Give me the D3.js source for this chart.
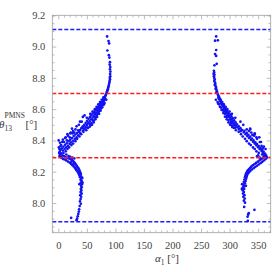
<!DOCTYPE html>
<html>
<head>
<meta charset="utf-8">
<script src="https://cdn.jsdelivr.net/npm/d3@7"></script>
<style>
  html, body { margin: 0; padding: 0; background: #fff; }
  svg, svg text { font-family: "Liberation Serif", "Times New Roman", "DejaVu Serif", serif; }
</style>
</head>
<body>
<div id="chart"></div>
<script>
// alpha_1 [deg], theta_13 [deg]
const leftBranch = [
  [85.5, 9.065], [88.0, 9.035], [89.0, 9.02], [86.0, 8.975], [88.5, 8.945], [89.5, 8.93], [90.5, 8.90],
  [90.0, 8.885], [91.0, 8.87], [90.5, 8.855], [91.2, 8.84], [90.8, 8.825], [91.0, 8.81], [90.2, 8.80],
  [90.6, 8.79], [89.8, 8.78], [89.5, 8.77], [88.9, 8.76], [88.4, 8.75], [87.8, 8.742], [87.2, 8.735],
  [86.8, 8.727], [86.0, 8.72], [85.4, 8.712], [84.8, 8.705], [84.0, 8.698], [83.2, 8.69], [82.5, 8.685],
  [81.5, 8.678], [80.0, 8.672], [82.0, 8.668], [78.5, 8.662], [80.5, 8.658], [77.0, 8.652], [79.0, 8.648],
  [75.0, 8.642], [77.5, 8.638], [73.0, 8.632], [76.0, 8.628], [71.5, 8.622], [74.0, 8.618], [69.0, 8.612],
  [72.5, 8.61], [67.0, 8.602], [70.5, 8.598], [65.0, 8.592], [68.5, 8.59], [73.0, 8.595], [62.5, 8.582],
  [66.5, 8.578], [70.0, 8.575], [60.0, 8.572], [64.0, 8.568], [58.0, 8.56], [62.0, 8.556], [67.0, 8.56],
  [55.5, 8.55], [60.0, 8.545], [64.5, 8.548], [53.0, 8.538], [57.5, 8.535], [50.5, 8.525], [55.0, 8.522],
  [60.5, 8.528], [48.0, 8.512], [52.5, 8.51], [45.5, 8.5], [50.0, 8.498], [55.0, 8.505], [43.0, 8.49],
  [47.5, 8.486], [40.5, 8.478], [45.0, 8.475], [50.5, 8.482], [38.0, 8.466], [43.0, 8.462], [36.5, 8.455],
  [47.0, 8.47], [32.0, 8.49], [21.0, 8.445], [43.0, 8.55], [38.0, 8.52], [46.0, 8.56],
  [84.0, 8.66], [81.0, 8.64], [78.0, 8.625], [80.0, 8.63], [75.0, 8.605], [77.0, 8.612], [71.0, 8.585],
  [74.0, 8.59], [68.0, 8.565], [71.5, 8.57], [65.0, 8.545], [68.0, 8.55], [62.0, 8.525], [65.0, 8.535],
  [58.0, 8.51], [62.0, 8.515], [56.0, 8.495], [59.0, 8.50], [52.0, 8.48], [55.0, 8.488], [49.0, 8.465],
  [44.0, 8.455], [40.0, 8.44], [37.0, 8.425], [33.0, 8.41], [30.0, 8.395], [26.0, 8.38], [23.0, 8.37],
  [19.0, 8.355], [16.0, 8.345], [13.0, 8.33], [9.0, 8.32], [30.0, 8.47], [26.0, 8.46], [22.0, 8.45],
  [17.0, 8.43], [13.0, 8.42], [7.0, 8.39], [4.0, 8.365], [2.0, 8.345], [16.0, 8.44], [24.0, 8.475],
  [36.0, 8.50], [41.0, 8.52], [50.0, 8.545], [56.0, 8.57], [60.0, 8.585], [64.0, 8.60], [67.0, 8.615],
  [70.0, 8.63], [73.0, 8.645], [76.0, 8.66], [79.0, 8.675], [18.0, 8.30], [21.0, 8.295], [25.0, 8.29],
  [14.0, 8.31], [28.0, 8.285],
  [33.0, 8.448], [38.5, 8.445], [30.0, 8.438], [35.0, 8.432], [27.0, 8.428], [32.0, 8.42], [24.0, 8.415],
  [29.0, 8.41], [21.0, 8.405], [26.0, 8.398], [18.0, 8.395], [22.5, 8.388], [15.0, 8.382], [20.0, 8.378],
  [12.0, 8.372], [17.0, 8.365], [9.0, 8.36], [14.0, 8.355], [6.0, 8.35], [11.0, 8.345], [4.0, 8.34],
  [8.0, 8.335], [2.5, 8.328], [10.0, 8.39], [20.0, 8.42], [28.0, 8.45], [35.0, 8.465], [5.0, 8.37],
  [15.0, 8.40], [25.0, 8.445], [42.0, 8.48], [1.0, 8.355], [3.0, 8.385], [8.0, 8.405], [12.0, 8.415],
  [0.7, 8.40],
  [1.5, 8.32], [5.0, 8.318], [3.0, 8.31], [7.0, 8.305], [2.0, 8.30], [10.0, 8.30], [4.5, 8.295],
  [13.0, 8.292], [6.0, 8.288], [16.0, 8.288], [8.5, 8.282], [19.0, 8.284], [11.0, 8.278], [22.0, 8.28],
  [14.0, 8.272], [24.0, 8.275], [17.0, 8.265], [26.0, 8.268], [20.0, 8.258], [28.0, 8.26], [22.5, 8.25],
  [29.5, 8.252], [25.0, 8.242], [31.0, 8.244], [27.0, 8.234], [32.5, 8.236], [29.0, 8.226], [34.0, 8.228],
  [30.5, 8.218], [35.5, 8.22], [32.0, 8.21], [36.5, 8.212], [33.5, 8.202], [37.5, 8.204], [35.0, 8.194],
  [38.5, 8.195], [36.0, 8.186], [39.5, 8.186], [37.0, 8.176], [40.0, 8.17], [38.0, 8.165], [40.5, 8.155],
  [39.0, 8.148], [41.0, 8.14], [39.5, 8.13], [41.5, 8.12], [40.0, 8.11], [41.0, 8.10], [39.5, 8.09],
  [40.5, 8.08], [39.0, 8.07], [41.0, 8.06], [38.5, 8.05], [40.0, 8.04], [39.0, 8.025], [38.0, 8.01],
  [39.5, 7.995], [37.5, 7.98], [36.5, 7.96], [36.0, 7.945], [35.0, 7.93], [34.0, 7.915], [33.0, 7.90],
  [32.0, 7.89], [22.5, 7.905], [42.0, 8.16], [42.5, 8.13], [37.0, 8.12], [23.0, 8.265], [26.5, 8.25]
];

const rightBranch = [
  [276.5, 9.065], [279.5, 9.04], [274.5, 9.038], [276.5, 8.978], [274.5, 8.952], [276.5, 8.94], [277.5, 8.89],
  [273.5, 8.88], [272.5, 8.845], [273.0, 8.835], [272.0, 8.825], [273.5, 8.82], [272.5, 8.81], [273.0, 8.80],
  [274.0, 8.79], [273.2, 8.78], [274.5, 8.77], [275.0, 8.76], [274.0, 8.755], [275.8, 8.745], [276.5, 8.735],
  [275.5, 8.73], [277.2, 8.722], [278.0, 8.712], [277.0, 8.708], [278.8, 8.70], [279.5, 8.692], [280.5, 8.685],
  [281.5, 8.678], [280.5, 8.672], [283.0, 8.668], [282.0, 8.662], [284.5, 8.656], [283.5, 8.65], [286.0, 8.645],
  [285.0, 8.64], [288.0, 8.634], [286.5, 8.628], [290.0, 8.622], [288.5, 8.617], [292.0, 8.612], [290.5, 8.606],
  [294.0, 8.60], [292.5, 8.595], [289.0, 8.598], [296.0, 8.59], [294.5, 8.584], [291.5, 8.585], [298.0, 8.578],
  [296.5, 8.572], [293.5, 8.574], [300.5, 8.566], [298.5, 8.56], [296.0, 8.56], [303.0, 8.555], [301.0, 8.548],
  [298.0, 8.55], [305.5, 8.542], [303.5, 8.536], [300.5, 8.535], [308.0, 8.528], [306.0, 8.522], [302.5, 8.522],
  [310.5, 8.515], [308.5, 8.508], [305.0, 8.51], [313.0, 8.502], [311.0, 8.496], [307.5, 8.496], [316.0, 8.49],
  [313.5, 8.484], [310.0, 8.482], [319.0, 8.478], [316.5, 8.472], [322.0, 8.466], [319.5, 8.46], [326.0, 8.462],
  [336.0, 8.47],
  [276.0, 8.66], [279.0, 8.645], [282.0, 8.63], [280.0, 8.635], [285.0, 8.61], [283.0, 8.615], [289.0, 8.59],
  [286.0, 8.595], [292.0, 8.57], [289.0, 8.575], [295.0, 8.55], [292.0, 8.552], [298.0, 8.53], [295.0, 8.535],
  [302.0, 8.51], [298.0, 8.515], [304.0, 8.495], [301.0, 8.50], [308.0, 8.48], [305.0, 8.485], [311.0, 8.465],
  [316.0, 8.455], [320.0, 8.44], [323.0, 8.425], [327.0, 8.41], [330.0, 8.395], [334.0, 8.38], [337.0, 8.37],
  [341.0, 8.355], [344.0, 8.345], [347.0, 8.33], [351.0, 8.32], [330.0, 8.47], [334.0, 8.46], [338.0, 8.45],
  [343.0, 8.43], [347.0, 8.42], [353.0, 8.39], [356.0, 8.365], [358.0, 8.35], [344.0, 8.44], [336.0, 8.475],
  [324.0, 8.50], [319.0, 8.52], [310.0, 8.545], [304.0, 8.57], [300.0, 8.585], [296.0, 8.60], [293.0, 8.615],
  [290.0, 8.63], [287.0, 8.645], [284.0, 8.66], [281.0, 8.675], [350.0, 8.305], [348.0, 8.298], [353.0, 8.29],
  [325.0, 8.452], [330.0, 8.448], [328.0, 8.44], [333.0, 8.436], [331.0, 8.428], [336.0, 8.424], [334.0, 8.416],
  [339.0, 8.412], [337.5, 8.404], [342.0, 8.40], [341.0, 8.392], [345.0, 8.388], [344.0, 8.38], [348.0, 8.376],
  [347.0, 8.368], [351.0, 8.364], [350.0, 8.356], [354.0, 8.352], [353.0, 8.344], [357.0, 8.34], [356.0, 8.332],
  [359.5, 8.328], [358.5, 8.32], [362.0, 8.316], [361.0, 8.308], [364.0, 8.304], [363.0, 8.296], [365.5, 8.292],
  [360.0, 8.30], [357.0, 8.31], [355.0, 8.39], [348.0, 8.41], [340.0, 8.435], [352.0, 8.42], [344.0, 8.445],
  [360.0, 8.36], [363.0, 8.345],
  [364.0, 8.285], [358.0, 8.288], [362.0, 8.278], [355.5, 8.28], [359.5, 8.27], [352.5, 8.272], [357.0, 8.262],
  [349.5, 8.264], [354.0, 8.254], [346.5, 8.256], [351.0, 8.246], [343.5, 8.248], [348.0, 8.238], [340.5, 8.24],
  [345.0, 8.23], [338.0, 8.232], [342.0, 8.222], [336.0, 8.224], [339.0, 8.214], [334.0, 8.216], [336.5, 8.206],
  [332.0, 8.208], [334.5, 8.198], [330.5, 8.20], [332.5, 8.19], [329.0, 8.19], [331.0, 8.18], [328.0, 8.178],
  [330.0, 8.168], [327.0, 8.165], [329.0, 8.155], [326.0, 8.15], [328.0, 8.14], [325.0, 8.135], [327.0, 8.125],
  [324.0, 8.118], [326.0, 8.108], [323.5, 8.10], [325.5, 8.09], [323.0, 8.08], [325.0, 8.07], [323.5, 8.06],
  [326.0, 8.05], [324.0, 8.04], [326.5, 8.028], [325.0, 8.015], [327.0, 8.002], [325.5, 7.975], [343.5, 7.956],
  [333.5, 7.935], [332.5, 7.925], [331.5, 7.912], [332.0, 7.886], [322.0, 8.12], [321.5, 8.09], [328.5, 8.11]
];

const redLines = [8.29, 8.70];    // dashed red
const blueLines = [7.88, 9.11];   // dashed blue
const xTicks = [0, 50, 100, 150, 200, 250, 300, 350];
const yTicks = [8.0, 8.2, 8.4, 8.6, 8.8, 9.0, 9.2];

const width = 272, height = 272;
const frame = {left: 52.3, right: 270.7, top: 15.3, bottom: 232.7};
const serif = "'Liberation Serif', 'Times New Roman', serif";

let svg = d3.select("#chart")
  .append("svg")
  .attr("width", width)
  .attr("height", height);

let x = d3.scaleLinear()
  .domain([-10.5, 372])
  .range([frame.left, frame.right]);

let y = d3.scaleLinear()
  .domain([7.81, 9.2])
  .range([frame.bottom, frame.top]);

let xMinor = d3.range(-10, 371, 10).filter(d => d % 50 !== 0);
let yMinor = d3.range(7.85, 9.2, 0.05).filter(d => Math.abs(d * 5 - Math.round(d * 5)) > 1e-6);

// data points
let pts = svg.append("g");
pts.selectAll("circle")
  .data(leftBranch.concat(rightBranch))
  .enter()
  .append("circle")
  .attr("cx", d => x(d[0]))
  .attr("cy", d => y(d[1]))
  .attr("r", 1.35)
  .attr("fill", "#1212f2");

// dashed horizontal lines
svg.append("g").selectAll("line")
  .data(redLines)
  .enter()
  .append("line")
  .attr("x1", frame.left).attr("x2", frame.right)
  .attr("y1", d => y(d)).attr("y2", d => y(d))
  .attr("stroke", "#ff1c1c")
  .attr("stroke-width", 1.5)
  .attr("stroke-dasharray", "4,2");

svg.append("g").selectAll("line")
  .data(blueLines)
  .enter()
  .append("line")
  .attr("x1", frame.left).attr("x2", frame.right)
  .attr("y1", d => y(d)).attr("y2", d => y(d))
  .attr("stroke", "#1c1cff")
  .attr("stroke-width", 1.5)
  .attr("stroke-dasharray", "4,2");

// frame with inward ticks
function styleAxis(g) {
  g.attr("font-family", serif);
  g.select(".domain").remove();
  g.selectAll(".tick line").attr("stroke", "#a0a0a0").attr("stroke-width", 0.7);
  g.selectAll(".tick text")
    .attr("fill", "#444")
    .attr("font-family", serif)
    .attr("font-size", 10.5);
}

svg.append("g").attr("transform", `translate(0,${frame.bottom})`)
  .call(d3.axisBottom(x).tickValues(xTicks).tickSizeInner(-4).tickSizeOuter(0).tickPadding(9))
  .call(styleAxis);
svg.append("g").attr("transform", `translate(0,${frame.bottom})`)
  .call(d3.axisBottom(x).tickValues(xMinor).tickSizeInner(-2.2).tickSizeOuter(0).tickFormat(""))
  .call(styleAxis);
svg.append("g").attr("transform", `translate(0,${frame.top})`)
  .call(d3.axisTop(x).tickValues(xTicks).tickSizeInner(-4).tickSizeOuter(0).tickFormat(""))
  .call(styleAxis);
svg.append("g").attr("transform", `translate(0,${frame.top})`)
  .call(d3.axisTop(x).tickValues(xMinor).tickSizeInner(-2.2).tickSizeOuter(0).tickFormat(""))
  .call(styleAxis);

svg.append("g").attr("transform", `translate(${frame.left},0)`)
  .call(d3.axisLeft(y).tickValues(yTicks).tickSizeInner(-4).tickSizeOuter(0).tickPadding(7).tickFormat(d3.format(".1f")))
  .call(styleAxis);
svg.append("g").attr("transform", `translate(${frame.left},0)`)
  .call(d3.axisLeft(y).tickValues(yMinor).tickSizeInner(-2.2).tickSizeOuter(0).tickFormat(""))
  .call(styleAxis);
svg.append("g").attr("transform", `translate(${frame.right},0)`)
  .call(d3.axisRight(y).tickValues(yTicks).tickSizeInner(-4).tickSizeOuter(0).tickFormat(""))
  .call(styleAxis);
svg.append("g").attr("transform", `translate(${frame.right},0)`)
  .call(d3.axisRight(y).tickValues(yMinor).tickSizeInner(-2.2).tickSizeOuter(0).tickFormat(""))
  .call(styleAxis);

svg.append("rect")
  .attr("x", frame.left).attr("y", frame.top)
  .attr("width", frame.right - frame.left)
  .attr("height", frame.bottom - frame.top)
  .attr("fill", "none")
  .attr("stroke", "#a0a0a0")
  .attr("stroke-width", 0.8);

// axis labels
let xLabel = svg.append("text")
  .attr("x", 155)
  .attr("y", 262)
  .attr("fill", "#333")
  .attr("font-family", serif)
  .attr("font-size", 11);
xLabel.append("tspan").attr("font-style", "italic").text("α");
xLabel.append("tspan").attr("dy", 2.5).attr("font-size", 7.5).text("1");
xLabel.append("tspan").attr("dy", -2.5).text(" [°]");

let yLabel = svg.append("g").attr("fill", "#333").attr("font-family", serif);
yLabel.append("text").attr("x", -1).attr("y", 128).attr("font-style", "italic")
  .attr("font-size", 11).text("θ");
yLabel.append("text").attr("x", 4.5).attr("y", 130.5)
  .attr("font-size", 7.5).text("13");
yLabel.append("text").attr("x", 4.5).attr("y", 117.5)
  .attr("font-size", 7.5).text("PMNS");
yLabel.append("text").attr("x", 25.5).attr("y", 128)
  .attr("font-size", 11).text("[°]");
</script>
</body>
</html>
